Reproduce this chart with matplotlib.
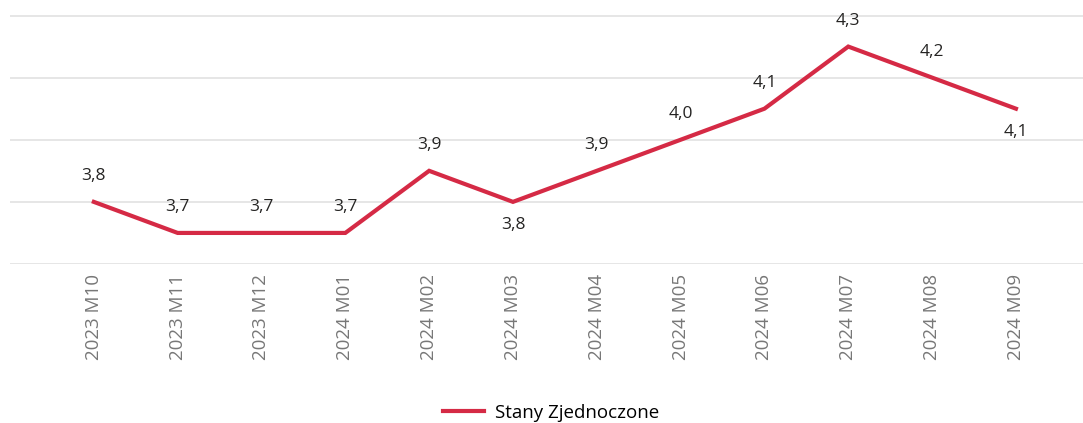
import matplotlib
matplotlib.use("Agg")
import matplotlib.pyplot as plt

categories = ["2023 M10", "2023 M11", "2023 M12", "2024 M01", "2024 M02", "2024 M03",
              "2024 M04", "2024 M05", "2024 M06", "2024 M07", "2024 M08", "2024 M09"]
values = [3.8, 3.7, 3.7, 3.7, 3.9, 3.8, 3.9, 4.0, 4.1, 4.3, 4.2, 4.1]
label_below = [False, False, False, False, False, True, False, False, False, False, False, True]
series_name = "Stany Zjednoczone"

plt.rcParams['font.family'] = ['Open Sans', 'DejaVu Sans']

W, H = 1083, 423
fig = plt.figure(figsize=(W / 100, H / 100), dpi=100)
ax = fig.add_axes([10 / W, (H - 264) / H, 1 - 10 / W, (264 - 15.5) / H])

color = "#D52A45"
x = list(range(len(categories)))
line, = ax.plot(x, values, color=color, lw=3.0, solid_joinstyle="miter", label=series_name, zorder=3)

for xi, v, below in zip(x, values, label_below):
    txt = f"{v:.1f}".replace(".", ",")
    ax.annotate(txt, (xi, v), xytext=(0, -23 if below else 26), textcoords="offset pixels",
                ha="center", va="center", fontsize=12.5, color="#252423")

ax.set_ylim(3.6, 4.4)
ax.set_yticks([3.6, 3.8, 4.0, 4.2, 4.4])
ax.set_xlim(-1.0, 11.8)
ax.set_xticks(x)
ax.set_xticklabels(categories, rotation=90, fontsize=13.5, color="#777777")
ax.tick_params(axis="x", length=0, pad=7)
ax.tick_params(axis="y", length=0, labelleft=False)
ax.grid(axis="y", color="#E1E1E1", lw=1.2)
ax.set_axisbelow(True)
for s in ax.spines.values():
    s.set_visible(False)

fig.legend(handles=[line], labels=[series_name], loc="center", bbox_to_anchor=(551 / W, 1 - 413 / H),
           frameon=False, fontsize=13.5, handlelength=2.2, handletextpad=0.6)

fig.savefig("out.png", dpi=100)
